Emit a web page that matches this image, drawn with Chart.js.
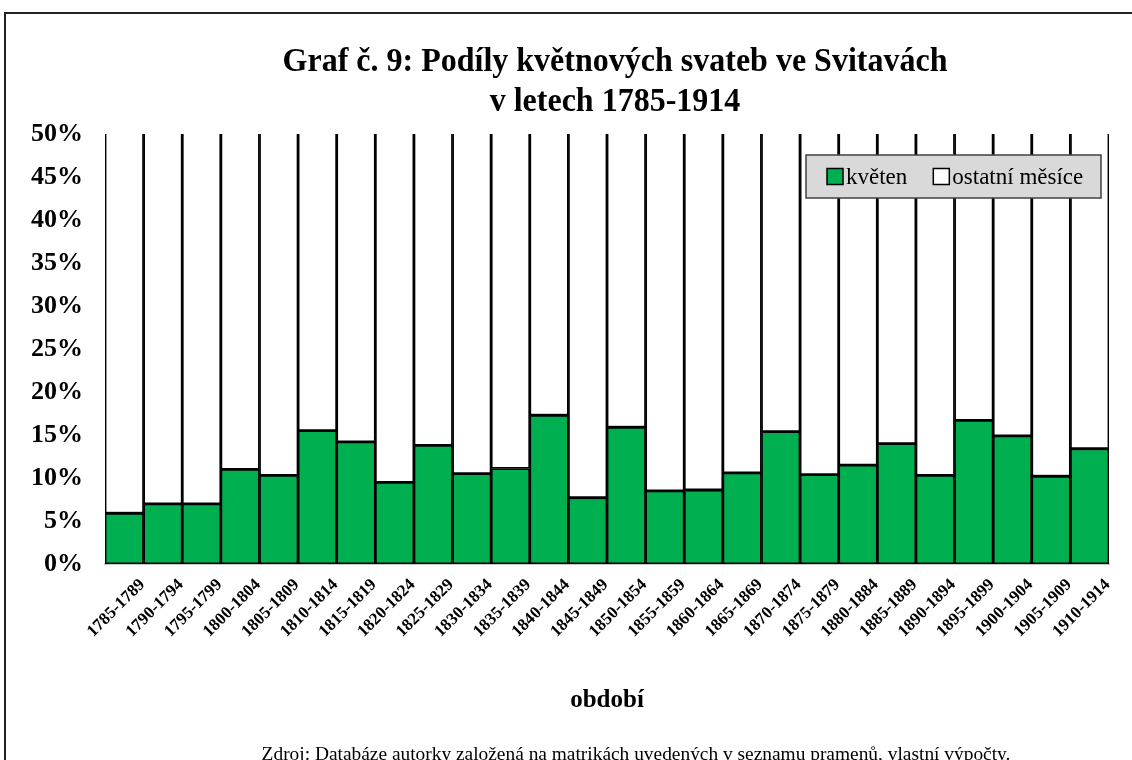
<!DOCTYPE html>
<html>
<head>
<meta charset="utf-8">
<script src="https://cdn.jsdelivr.net/npm/chart.js@4.4.1/dist/chart.umd.min.js"></script>
<style>
  html, body { margin: 0; padding: 0; background: #fff; overflow: hidden; }
  #wrap { position: relative; width: 1132px; height: 760px; overflow: hidden; }
  #frame { position: absolute; left: 4px; top: 12px; width: 1150px; height: 800px; border: 2px solid #222; box-sizing: border-box; }
  #c { position: absolute; left: 0; top: 0; }
  .title { position: absolute; left: 0; width: 1230px; text-align: center; font-family: "Liberation Serif", "Times New Roman", serif; font-weight: bold; font-size: 32px; line-height: 37px; color: #000; transform: scaleY(1.08); transform-origin: 0 0; }
  .src { position: absolute; left: 0; width: 1272px; text-align: center; font-family: "Liberation Serif", "Times New Roman", serif; font-size: 19.4px; line-height: 24px; color: #000; top: 742px; white-space: nowrap; }
</style>
</head>
<body>
<div id="wrap">
  <div id="frame"></div>
  <canvas id="c" width="1132" height="760"></canvas>
  <div class="title" style="top:40px">Graf č. 9: Podíly květnových svateb ve Svitavách<br>v letech 1785-1914</div>
  <div class="src">Zdroj: Databáze autorky založená na matrikách uvedených v seznamu pramenů, vlastní výpočty.</div>
</div>
<script>
const categories = ["1785-1789","1790-1794","1795-1799","1800-1804","1805-1809","1810-1814","1815-1819","1820-1824","1825-1829","1830-1834","1835-1839","1840-1844","1845-1849","1850-1854","1855-1859","1860-1864","1865-1869","1870-1874","1875-1879","1880-1884","1885-1889","1890-1894","1895-1899","1900-1904","1905-1909","1910-1914"];
const kveten = [5.9, 7.0, 7.0, 11.0, 10.3, 15.5, 14.2, 9.5, 13.8, 10.5, 11.1, 17.3, 7.7, 15.9, 8.5, 8.6, 10.6, 15.4, 10.4, 11.5, 14.0, 10.3, 16.7, 14.9, 10.2, 13.4];
const ostatni = [94.1, 93.0, 93.0, 89.0, 89.7, 84.5, 85.8, 90.5, 86.2, 89.5, 88.9, 82.7, 92.3, 84.1, 91.5, 91.4, 89.4, 84.6, 89.6, 88.5, 86.0, 89.7, 83.3, 85.1, 89.8, 86.6];
const yTicks = [0, 5, 10, 15, 20, 25, 30, 35, 40, 45, 50];
const seriesLabels = ["květen", "ostatní měsíce"];
const xTitle = "období";

const GREEN = "#00B050";

const legendBox = {
  id: 'legendBox',
  afterDatasetsDraw(chart) {
    const ctx = chart.ctx;
    const ca = chart.chartArea;
    const w = 295, h = 43;
    const x = ca.right - 8 - w, y = ca.top + 21;
    ctx.save();
    ctx.fillStyle = "#D9D9D9";
    ctx.fillRect(x, y, w, h);
    ctx.strokeStyle = "#404040";
    ctx.lineWidth = 1.5;
    ctx.strokeRect(x, y, w, h);
    ctx.font = '23px "Liberation Serif", "Times New Roman", serif';
    ctx.textBaseline = 'middle';
    ctx.fillStyle = "#000";
    const cy = y + h / 2;
    const ds = chart.data.datasets;
    let px = x + 21;
    ds.forEach((d, i) => {
      ctx.fillStyle = d.backgroundColor;
      ctx.fillRect(px, cy - 8, 16, 16);
      ctx.strokeStyle = "#000";
      ctx.lineWidth = 1.5;
      ctx.strokeRect(px, cy - 8, 16, 16);
      ctx.fillStyle = "#000";
      ctx.fillText(d.label, px + 19, cy + 1);
      px += 19 + ctx.measureText(d.label).width + 26;
    });
    ctx.restore();
  }
};

new Chart(document.getElementById('c'), {
  type: 'bar',
  data: {
    labels: categories,
    datasets: [
      { label: seriesLabels[0], data: kveten, backgroundColor: GREEN, borderColor: "#000", borderWidth: 1.75, borderSkipped: false },
      { label: seriesLabels[1], data: ostatni, backgroundColor: "#FFFFFF", borderColor: "#000", borderWidth: 1.75, borderSkipped: false }
    ]
  },
  options: {
    responsive: false,
    animation: false,
    layout: { padding: { left: 0, right: 23, top: 134, bottom: 40 } },
    datasets: { bar: { barPercentage: 1, categoryPercentage: 1 } },
    plugins: {
      legend: { display: false },
      title: { display: false },
      tooltip: { enabled: false }
    },
    scales: {
      x: {
        stacked: true,
        grid: { display: false, drawTicks: false },
        border: { display: true, color: "#C8C8C8", width: 2 },
        ticks: {
          autoSkip: false, maxRotation: 45, minRotation: 45, padding: 11, labelOffset: 18,
          color: "#000",
          font: { family: '"Liberation Serif", "Times New Roman", serif', size: 17, weight: 'bold' }
        },
        title: {
          display: true, text: xTitle, color: "#000", padding: { top: 4, bottom: 4 },
          font: { family: '"Liberation Serif", "Times New Roman", serif', size: 25, weight: 'bold' }
        },
        afterFit(scale) { scale.height = 156; }
      },
      y: {
        stacked: true,
        min: 0, max: 50,
        grid: { display: false, drawTicks: false },
        border: { display: false },
        afterBuildTicks(scale) { scale.ticks = yTicks.map(v => ({ value: v })); },
        ticks: {
          padding: 22, color: "#000",
          callback: v => v + '%',
          font: { family: '"Liberation Serif", "Times New Roman", serif', size: 26, weight: 'bold' }
        },
        afterFit(scale) { scale.width = 105; }
      }
    }
  },
  plugins: [legendBox]
});
</script>
</body>
</html>
